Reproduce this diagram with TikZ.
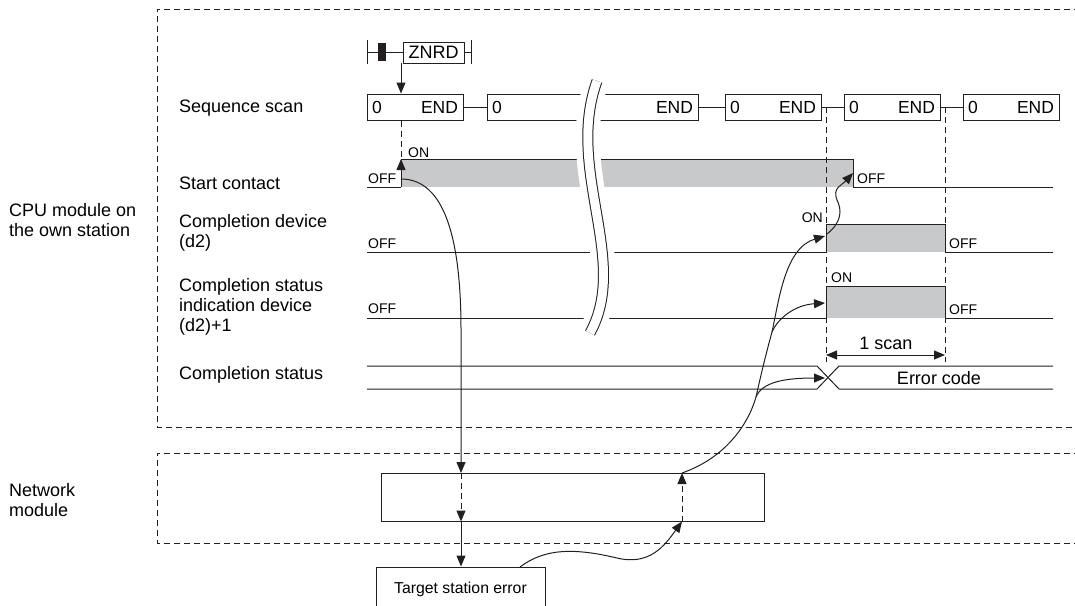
\documentclass[tikz,border=0pt]{standalone}
\usepackage{fontspec}
\setmainfont{Liberation Sans}
\usepackage{tikz}
\usetikzlibrary{arrows.meta,calc,positioning}

\definecolor{ink}{RGB}{35,31,32}
\definecolor{graybar}{RGB}{200,201,203}

\tikzset{
  wire/.style={draw=ink, line width=1pt},
  dashwire/.style={draw=ink, line width=1pt, dash pattern=on 6pt off 4pt},
  tip/.style={-{Triangle[length=11pt,width=9pt]}},
  twotip/.style={{Triangle[length=11pt,width=9pt]}-{Triangle[length=11pt,width=9pt]}},
  scanbox/.style={draw=ink, line width=1pt, minimum width=96pt, minimum height=26pt, inner sep=0pt, font=\fontsize{17.5}{18}\selectfont},
  rowlabel/.style={anchor=west, align=left, inner sep=0pt, font=\fontsize{18}{20}\selectfont},
  state/.style={inner sep=0pt, font=\fontsize{14}{14}\selectfont},
  modbox/.style={draw=ink, line width=1pt, inner sep=0pt},
}

\begin{document}
\begin{tikzpicture}[x=1pt, y=-1pt]
      \useasboundingbox (0,0) rectangle (1075,605);

      % module frames
      \draw[dashwire] (1080,9) -- (157,9) -- (157,427) -- (1080,427);
      \draw[dashwire] (1080,453) -- (157,453) -- (157,543) -- (1080,543);

      \node[rowlabel] (cpu) at (9,220) {CPU module on\\the own station};
      \node[rowlabel] (netmod) at (9,500) {Network\\module};

      \node[rowlabel] (seq) at (179,108) {Sequence scan};
      \node[rowlabel] (start) at (179,183) {Start contact};
      \node[rowlabel] (done) at (179,233) {Completion device\\(d2)};
      \node[rowlabel] (stat) at (179,307) {Completion status\\indication device\\(d2)+1};
      \node[rowlabel] (code) at (179,375) {Completion status};

      % instruction
      \draw[wire] (367,40) -- (367,64);
      \draw[wire] (471,40) -- (471,64);
      \node[modbox, minimum width=61pt, minimum height=21pt, font=\fontsize{18}{18}\selectfont] (znrd) at (433.5,52.5) {ZNRD};
      \draw[wire] (367,52.5) -- (znrd.west);
      \draw[wire] (znrd.east) -- (471,52.5);
      \fill[ink] (378,43) rectangle (386,61);
      \coordinate (trig) at (401,63);

      % sequence scan
      \node[scanbox] (s1) at (415,107) {\makebox[86pt]{0\hfill END}};
      \node[scanbox, minimum width=211pt, right=23pt of s1] (s2) {\makebox[201pt]{0\hfill END}};
      \node[scanbox, right=26pt of s2] (s3) {\makebox[86pt]{0\hfill END}};
      \node[scanbox, right=22pt of s3] (s4) {\makebox[86pt]{0\hfill END}};
      \node[scanbox, right=22pt of s4] (s5) {\makebox[86pt]{0\hfill END}};

      \path[wire]
      (s1) edge (s2)
      (s2) edge (s3)
      (s3) edge (s4)
      (s4) edge (s5) ;

      \draw[wire, tip] (trig) -- (trig |- s1.north);

      % start contact
      \coordinate (scup) at (401,159);
      \coordinate (scout) at (401,179);
      \coordinate (scdown) at (853,173);
      \fill[graybar] (401,159) rectangle (853,187);
      \draw[wire] (367,187) -- (401,187);
      \draw[wire, tip] (401,187) -- (scup);
      \draw[wire] (scup) -- (853,159) -- (853,187) -- (1053,187);
      \node[state, anchor=base west] (off1) at (368,183) {OFF};
      \node[state, anchor=base west] (on1) at (408,157) {ON};
      \node[state, anchor=base west] (off2) at (857,183) {OFF};

      % completion device
      \fill[graybar] (826,224) rectangle (945,252);
      \draw[wire] (367,252) -- (826,252) -- (826,224) -- (945,224) -- (945,252) -- (1053,252);
      \node[state, anchor=base west] (off3) at (368,248) {OFF};
      \node[state, anchor=base east] (on2) at (823,222) {ON};
      \node[state, anchor=base west] (off4) at (949,248) {OFF};

      % completion status indication
      \fill[graybar] (826,286) rectangle (945,318);
      \draw[wire] (367,318) -- (826,318) -- (826,286) -- (945,286) -- (945,318) -- (1053,318);
      \node[state, anchor=base west] (off5) at (368,313) {OFF};
      \node[state, anchor=base west] (on3) at (831,282) {ON};
      \node[state, anchor=base west] (off6) at (949,314) {OFF};

      % completion status
      \draw[wire] (367,366) -- (817,366) -- (839,389) -- (1053,389);
      \draw[wire] (367,389) -- (817,389) -- (839,366) -- (1053,366);
      \node[font=\fontsize{18}{18}\selectfont, inner sep=0pt] (err) at (939,378) {Error code};

      % break
      \draw[white, line width=24pt] (597,81) .. controls (565,170) and (630,260) .. (590,333);
      \draw[ink, line width=1pt, double=white, double distance=9pt] (597,81) .. controls (565,170) and (630,260) .. (590,333);

      % timing marks
      \draw[dashwire] (trig |- s1.south) -- (scup);
      \draw[dashwire] (826,107) -- (826,362);
      \draw[dashwire] (945,107) -- (945,362);
      \draw[wire, twotip] (826,355) -- (945,355);
      \node[font=\fontsize{18}{18}\selectfont, inner sep=0pt] (scan) at (886,343) {1 scan};

      % network module
      \node[modbox, minimum width=383pt, minimum height=48pt] (net) at (572.5,497) {};
      \node[modbox, minimum width=169pt, minimum height=44pt, font=\fontsize{15.8}{16}\selectfont] (target) at (460.5,589) {Target station error};

      \coordinate (netin) at (461,473);
      \coordinate (netout) at (682,473);
      \coordinate (tgtout) at (520,567);
      \coordinate (b1) at (756,397);
      \coordinate (b2) at (772,332);

      \draw[wire, tip] (scout) .. controls (445,179) and (461,240) .. (461,330) -- (netin);
      \draw[dashwire, tip] (netin) -- (netin |- net.south);
      \draw[wire, tip] (netin |- net.south) -- (netin |- target.north);

      \draw[wire, tip] (tgtout) .. controls (545,548) and (575,548) .. (617,558) .. controls (650,566) and (665,545) .. (netout |- net.south);
      \draw[dashwire, tip] (netout |- net.south) -- (netout);

      \draw[wire] (netout) .. controls (725,458) and (748,425) .. (b1);
      \draw[wire, tip] (b1) .. controls (762,382) and (785,378) .. (825,378);
      \draw[wire] (b1) .. controls (762,370) and (767,350) .. (b2);
      \draw[wire, tip] (b2) .. controls (778,318) and (795,305) .. (825,303);
      \draw[wire, tip] (b2) .. controls (779,300) and (785,248) .. (825,236);
      \draw[wire, tip] (827,234) .. controls (842,222) and (842,210) .. (837,200) .. controls (832,188) and (842,185) .. (scdown);

    \end{tikzpicture}
\end{document}
